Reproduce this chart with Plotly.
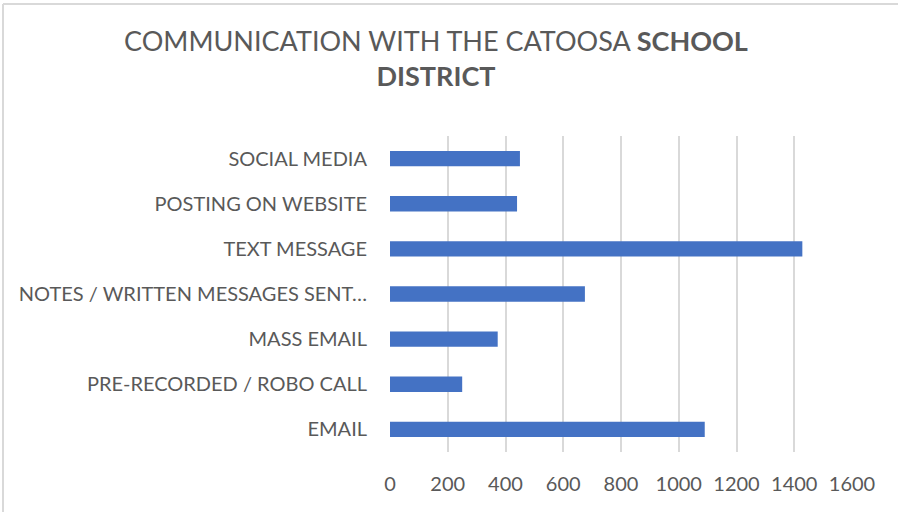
import plotly.graph_objects as go

categories = ["EMAIL", "PRE-RECORDED / ROBO CALL", "MASS EMAIL",
              "NOTES / WRITTEN MESSAGES SENT…", "TEXT MESSAGE",
              "POSTING ON WEBSITE", "SOCIAL MEDIA"]
values = [1090, 250, 373, 675, 1428, 440, 450]
x_ticks = [0, 200, 400, 600, 800, 1000, 1200, 1400, 1600]

W, H = 898, 512
L, R, T, B = 390, 46, 136, 60
pw, ph = W - L - R, H - T - B

fig = go.Figure(go.Bar(
    y=categories, x=values, orientation="h",
    marker=dict(color="#4472c4", line=dict(width=0)),
    width=0.34,
))

def px_x(p):
    return (p - L) / pw

def px_y(p):
    return (H - B - p) / ph

fig.update_layout(
    width=W, height=H,
    margin=dict(l=L, r=R, t=T, b=B, autoexpand=False),
    paper_bgcolor="white", plot_bgcolor="white",
    font=dict(family="Lato, Carlito, sans-serif", color="#595959"),
    title=dict(
        text="COMMUNICATION WITH THE CATOOSA <b>SCHOOL</b><br><b>DISTRICT</b>",
        x=436 / W, xanchor="center", xref="container",
        y=1 - 51 / H, yanchor="top", yref="container",
        automargin=False,
        font=dict(size=27, color="#595959", family="Lato, Carlito, sans-serif"),
    ),
    xaxis=dict(
        range=[0, 1600], tickvals=x_ticks, ticktext=[str(v) for v in x_ticks],
        showgrid=True, gridcolor="#d9d9d9", gridwidth=1.5,
        zeroline=False, showline=False, automargin=False,
        ticks="outside", ticklen=14, tickcolor="rgba(0,0,0,0)",
        tickfont=dict(size=20, color="#595959"),
    ),
    yaxis=dict(
        categoryorder="array", categoryarray=categories,
        showgrid=False, zeroline=False, showline=False, automargin=False,
        ticks="outside", ticklen=18, tickcolor="rgba(0,0,0,0)",
        tickfont=dict(size=20, color="#595959"),
    ),
    shapes=[
        dict(type="line", xref="paper", yref="paper",
             x0=px_x(3), x1=px_x(898), y0=px_y(4), y1=px_y(4),
             line=dict(color="#d9d9d9", width=2)),
        dict(type="line", xref="paper", yref="paper",
             x0=px_x(3), x1=px_x(3), y0=px_y(4), y1=px_y(512),
             line=dict(color="#d9d9d9", width=2)),
    ],
    showlegend=False,
)

fig.write_html(
    "out.html",
    config={"displayModeBar": False},
    post_script="document.body.style.margin='0';document.body.style.overflow='hidden';",
)
